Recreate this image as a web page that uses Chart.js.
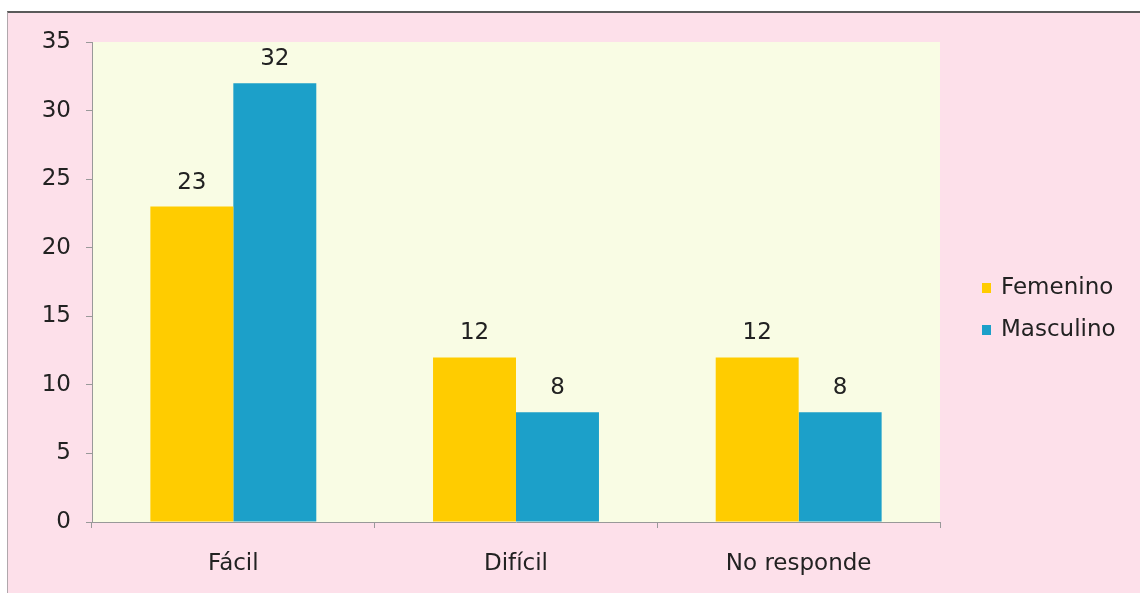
<!DOCTYPE html>
<html>
<head>
<meta charset="utf-8">
<script src="https://cdn.jsdelivr.net/npm/chart.js@4.4.0/dist/chart.umd.min.js"></script>
<style>
    html, body { margin: 0; padding: 0; background: #ffffff; }
    #frame {
        position: absolute; left: 7px; top: 11px; width: 1133px; height: 580px;
        background: #fde0ea; border-top: 2px solid #5a5a5a; border-left: 1px solid #b0a8ac;
    }
    #wrap { position: absolute; left: 0; top: 0; width: 1140px; height: 598px; }
</style>
</head>
<body>
<div id="frame"></div>
<div id="wrap"><canvas id="chart"></canvas></div>
<script>
const categories = ['Fácil', 'Difícil', 'No responde'];
const femenino = [23, 12, 12];
const masculino = [32, 8, 8];
const yTicks = [0, 5, 10, 15, 20, 25, 30, 35];

const FONT = "'DejaVu Sans', Arial, sans-serif";
const TEXT = '#222222';

// light yellow plot area behind the bars
const plotBg = {
    id: 'plotBg',
    beforeDraw(chart) {
        const { ctx, chartArea: a } = chart;
        ctx.save();
        ctx.fillStyle = '#f9fce4';
        ctx.fillRect(a.left, a.top, a.right - a.left, a.bottom - a.top);
        ctx.restore();
    }
};

// numbers above each bar
const valueLabels = {
    id: 'valueLabels',
    afterDatasetsDraw(chart) {
        const ctx = chart.ctx;
        ctx.save();
        ctx.font = '23px ' + FONT;
        ctx.fillStyle = TEXT;
        ctx.textAlign = 'center';
        ctx.textBaseline = 'middle';
        chart.data.datasets.forEach((ds, i) => {
            chart.getDatasetMeta(i).data.forEach((bar, j) => {
                ctx.fillText(String(ds.data[j]), bar.x, bar.y - 24);
            });
        });
        ctx.restore();
    }
};

// legend on the right, small square markers
const sideLegend = {
    id: 'sideLegend',
    afterDraw(chart) {
        const ctx = chart.ctx;
        ctx.save();
        ctx.font = '23px ' + FONT;
        ctx.textBaseline = 'middle';
        ctx.textAlign = 'left';
        chart.data.datasets.forEach((ds, i) => {
            const y = 288 + i * 42;
            ctx.fillStyle = ds.backgroundColor;
            ctx.fillRect(982, y - 5, 9, 10);
            ctx.fillStyle = TEXT;
            ctx.fillText(ds.label, 1001, y);
        });
        ctx.restore();
    }
};

new Chart(document.getElementById('chart'), {
    type: 'bar',
    data: {
        labels: categories,
        datasets: [
            { label: 'Femenino', data: femenino, backgroundColor: '#ffcc00' },
            { label: 'Masculino', data: masculino, backgroundColor: '#1ca0c9' }
        ]
    },
    options: {
        responsive: true,
        maintainAspectRatio: false,
        devicePixelRatio: 1,
        animation: false,
        layout: { padding: { left: 0, top: 42, right: 200, bottom: 0 } },
        datasets: { bar: { categoryPercentage: 0.587, barPercentage: 1.0 } },
        plugins: {
            legend: { display: false },
            tooltip: { enabled: false }
        },
        scales: {
            x: {
                grid: { display: true, drawOnChartArea: false, offset: true, tickLength: 6, color: '#999999' },
                border: { color: '#999999' },
                ticks: { padding: 22, color: TEXT, font: { family: FONT, size: 23 } },
                afterFit(scale) { scale.height = 76; }
            },
            y: {
                min: 0,
                max: 35,
                afterBuildTicks(scale) { scale.ticks = yTicks.map(v => ({ value: v })); },
                grid: { display: true, drawOnChartArea: false, tickLength: 6, color: '#999999' },
                border: { color: '#999999' },
                ticks: { padding: 15, color: TEXT, font: { family: FONT, size: 23 } },
                afterFit(scale) { scale.width = 92; }
            }
        }
    },
    plugins: [plotBg, valueLabels, sideLegend]
});
</script>
</body>
</html>
